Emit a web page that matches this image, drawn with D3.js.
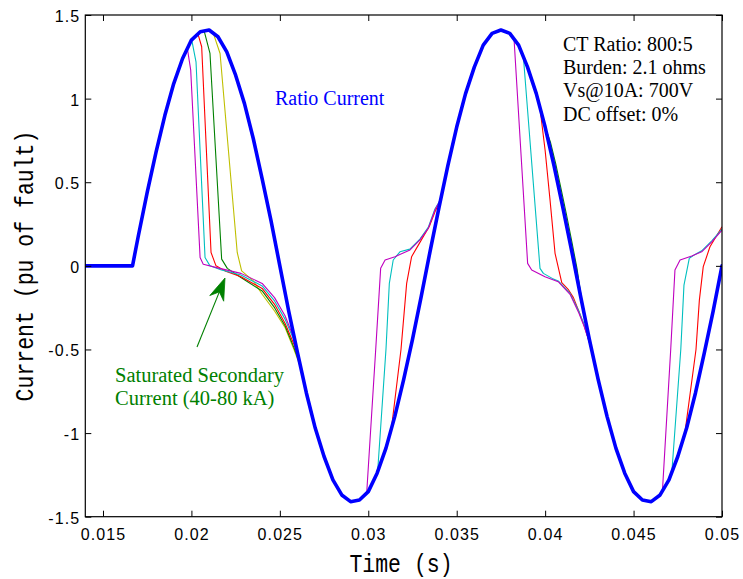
<!DOCTYPE html>
<html>
<head>
<meta charset="utf-8">
<script src="https://cdn.jsdelivr.net/npm/d3@7/dist/d3.min.js"></script>
<style>
  html, body { margin: 0; padding: 0; background: #ffffff; }
  svg { display: block; }
</style>
</head>
<body>
<svg id="chart" width="743" height="579"></svg>
<script>
// ---------- data ----------
const xTicks = [0.015, 0.02, 0.025, 0.03, 0.035, 0.04, 0.045, 0.05];
const xTickLabels = ["0.015", "0.02", "0.025", "0.03", "0.035", "0.04", "0.045", "0.05"];
const yTicks = [-1.5, -1, -0.5, 0, 0.5, 1, 1.5];
const yTickLabels = ["-1.5", "-1", "-0.5", "0", "0.5", "1", "1.5"];

// Ratio current (blue)
const ratioTime = [0.014, 0.0165, 0.01667, 0.0170, 0.0175, 0.0180, 0.0185, 0.0190, 0.0195, 0.0200, 0.0205,
  0.0210, 0.0215, 0.0220, 0.0225, 0.0230, 0.0235, 0.0240, 0.0245, 0.0250, 0.0255, 0.0260, 0.0265,
  0.0270, 0.0275, 0.0280, 0.0285, 0.0290, 0.0295, 0.0300, 0.0305, 0.0310, 0.0315, 0.0320, 0.0325,
  0.0330, 0.0335, 0.0340, 0.0345, 0.0350, 0.0355, 0.0360, 0.0365, 0.0370, 0.0375, 0.0380, 0.0385,
  0.0390, 0.0395, 0.0400, 0.0405, 0.0410, 0.0415, 0.0420, 0.0425, 0.0430, 0.0435, 0.0440, 0.0445,
  0.0450, 0.0455, 0.0460, 0.0465, 0.0470, 0.0475, 0.0480, 0.0485, 0.0490, 0.0495, 0.0500];
const ratioCurrent = [0, 0, 0, 0.18, 0.44, 0.68, 0.90, 1.09, 1.24, 1.35, 1.40,
  1.41, 1.37, 1.28, 1.14, 0.97, 0.76, 0.52, 0.27, 0.00, -0.27, -0.52, -0.76,
  -0.97, -1.14, -1.28, -1.37, -1.41, -1.40, -1.35, -1.24, -1.09, -0.90, -0.68, -0.44,
  -0.18, 0.09, 0.35, 0.60, 0.83, 1.03, 1.19, 1.32, 1.39, 1.41, 1.39, 1.32,
  1.19, 1.03, 0.83, 0.60, 0.35, 0.09, -0.18, -0.44, -0.68, -0.90, -1.09, -1.24,
  -1.35, -1.40, -1.41, -1.37, -1.28, -1.14, -0.97, -0.76, -0.52, -0.27, 0.00];

// Saturated secondary currents: only the stretches where they leave the ratio current
// (elsewhere they coincide with it). null separates saturation episodes.
const magentaTime = [0.01977, 0.01996, 0.02049, 0.02067, 0.0216, 0.0228, 0.0240, 0.0247, 0.0253, 0.02575, 0.0260, null,
  0.02991, 0.03042, 0.0307, 0.03095, 0.03151, 0.03236, 0.03292, 0.03339, 0.03377, 0.0341, null,
  0.03824, 0.03901, 0.03924, 0.03999, 0.04074, 0.04141, 0.0419, 0.0422, 0.0426, null,
  0.04663, 0.0471, 0.04734, 0.04763, 0.04829, 0.04885, 0.04942, 0.0500];
const magentaCurrent = [1.30, 1.17, 0.05, 0.01, -0.015, -0.045, -0.105, -0.19, -0.30, -0.42, -0.52, null,
  -1.36, -0.50, -0.015, 0.035, 0.055, 0.095, 0.155, 0.224, 0.334, 0.40, null,
  1.36, 0.015, -0.025, -0.065, -0.095, -0.17, -0.28, -0.36, -0.49, null,
  -1.35, -0.50, -0.025, 0.035, 0.059, 0.084, 0.144, 0.214];

const cyanTime = [0.02002, 0.02026, 0.02077, 0.02105, 0.0217, 0.0228, 0.0240, 0.0247, 0.0253, 0.02578, 0.02605, null,
  0.03053, 0.0310, 0.03119, 0.03141, 0.03179, 0.03235, 0.03292, 0.03339, 0.03377, 0.0341, null,
  0.03877, 0.03971, 0.0399, 0.0404, 0.04074, 0.04141, 0.0419, 0.0422, 0.0426, null,
  0.04716, 0.04767, 0.04785, 0.04815, 0.0485, 0.04885, 0.04942, 0.0500];
const cyanCurrent = [1.35, 1.22, 0.05, 0.0, -0.025, -0.055, -0.12, -0.21, -0.32, -0.44, -0.54, null,
  -1.23, -0.50, -0.105, 0.035, 0.084, 0.10, 0.16, 0.23, 0.34, 0.40, null,
  1.25, -0.015, -0.045, -0.075, -0.09, -0.165, -0.27, -0.35, -0.49, null,
  -1.24, -0.50, -0.115, 0.045, 0.07, 0.09, 0.15, 0.22];

const redTime = [0.02036, 0.02058, 0.02111, 0.02139, 0.0219, 0.0228, 0.0240, 0.0247, 0.0253, 0.0258, 0.0261, null,
  0.0313, 0.03185, 0.03217, 0.03245, 0.03283, 0.0332, 0.03345, 0.0338, 0.0341, null,
  0.0397, 0.0400, 0.04028, 0.04056, 0.04094, 0.0413, 0.0416, 0.0419, 0.0422, 0.0426, null,
  0.0479, 0.04853, 0.04872, 0.04894, 0.04932, 0.0500];
const redCurrent = [1.39, 1.31, 0.08, 0.0, -0.03, -0.065, -0.135, -0.23, -0.345, -0.47, -0.57, null,
  -0.98, -0.50, -0.105, 0.055, 0.124, 0.19, 0.235, 0.33, 0.40, null,
  0.95, 0.69, 0.39, 0.075, -0.10, -0.14, -0.19, -0.27, -0.355, -0.49, null,
  -1.00, -0.50, -0.205, -0.005, 0.114, 0.234];

const greenTime = [0.02073, 0.02105, 0.02171, 0.02203, 0.0228, 0.0240, 0.0247, 0.0253, 0.0258, 0.02615, null,
  0.0400, 0.0403, 0.0406, 0.0409, 0.0412, 0.0415, 0.0418, 0.0421];
const greenCurrent = [1.40, 1.27, 0.04, -0.015, -0.07, -0.15, -0.25, -0.36, -0.49, -0.59, null,
  0.83, 0.74, 0.61, 0.46, 0.31, 0.15, -0.015, -0.23];

const yellowTime = [0.02124, 0.02162, 0.02259, 0.02284, 0.0235, 0.0240, 0.0247, 0.0253, 0.0258, 0.0262, null,
  0.0401, 0.0404, 0.0407, 0.0410, 0.0413, 0.0416, 0.0419, 0.0422];
const yellowCurrent = [1.39, 1.27, 0.08, -0.03, -0.09, -0.17, -0.27, -0.37, -0.50, -0.615, null,
  0.78, 0.68, 0.53, 0.38, 0.225, 0.07, -0.10, -0.28];

const infoLines = ["CT Ratio: 800:5", "Burden: 2.1 ohms", "Vs@10A: 700V", "DC offset: 0%"];
const satLabel = ["Saturated Secondary", "Current (40-80 kA)"];

// ---------- drawing ----------
const svg = d3.select("#chart");
const L = 85.3, R = 722, T = 15, B = 516.7;
const x = d3.scaleLinear().domain([0.014, 0.05]).range([L, R]);
const y = d3.scaleLinear().domain([-1.5, 1.5]).range([B, T]);

svg.append("rect").attr("x", 0).attr("y", 0).attr("width", 743).attr("height", 579).attr("fill", "#fff");

svg.append("clipPath").attr("id", "clip")
  .append("rect").attr("x", L).attr("y", T).attr("width", R - L).attr("height", B - T);

const plot = svg.append("g").attr("clip-path", "url(#clip)");

const zip = (ts, vs) => ts.map((t, i) => ({ t: t, v: vs[i] }));
const line = d3.line()
  .defined(d => d.t !== null && d.v !== null)
  .x(d => x(d.t)).y(d => y(d.v));

const thin = [
  { data: zip(yellowTime, yellowCurrent), color: "#bfbf00" },
  { data: zip(greenTime, greenCurrent), color: "#008000" },
  { data: zip(redTime, redCurrent), color: "#ff0000" },
  { data: zip(cyanTime, cyanCurrent), color: "#00bfbf" },
  { data: zip(magentaTime, magentaCurrent), color: "#bf00bf" }
];
thin.forEach(s => {
  plot.append("path").datum(s.data).attr("d", line)
    .attr("fill", "none").attr("stroke", s.color).attr("stroke-width", 1.1)
    .attr("stroke-linejoin", "round");
});
plot.append("path").datum(zip(ratioTime, ratioCurrent)).attr("d", line)
  .attr("fill", "none").attr("stroke", "#0000ff").attr("stroke-width", 3.6)
  .attr("stroke-linejoin", "round").attr("stroke-linecap", "round");

// axes box
svg.append("rect").attr("x", L).attr("y", T).attr("width", R - L).attr("height", B - T)
  .attr("fill", "none").attr("stroke", "#000").attr("stroke-width", 1.2);

// ticks (inward) using d3 axes
const tickFont = "'Liberation Sans', Arial, sans-serif";
const xb = svg.append("g").attr("transform", `translate(0,${B})`)
  .call(d3.axisBottom(x).tickValues(xTicks).tickSize(-6).tickPadding(14)
    .tickFormat((d, i) => xTickLabels[i]));
const xt = svg.append("g").attr("transform", `translate(0,${T})`)
  .call(d3.axisTop(x).tickValues(xTicks).tickSize(-6).tickFormat(""));
const yl = svg.append("g").attr("transform", `translate(${L},0)`)
  .call(d3.axisLeft(y).tickValues(yTicks).tickSize(-6).tickPadding(5)
    .tickFormat((d, i) => yTickLabels[i]));
const yr = svg.append("g").attr("transform", `translate(${R},0)`)
  .call(d3.axisRight(y).tickValues(yTicks).tickSize(-6).tickFormat(""));
[xb, xt, yl, yr].forEach(g => {
  g.select(".domain").remove();
  g.selectAll(".tick line").attr("stroke", "#000").attr("stroke-width", 1);
  g.selectAll("text").attr("fill", "#000").style("font-family", tickFont)
    .style("font-size", "16px").style("letter-spacing", "1.1px");
});
xb.selectAll(".tick text").attr("dy", "0.71em").attr("y", 12);
yl.selectAll(".tick text").attr("dy", "0.40em").attr("x", -5);

// axis labels
const monoFont = "'Liberation Mono', 'DejaVu Sans Mono', monospace";
svg.append("text").text("Time (s)")
  .attr("transform", "translate(401,572) scale(1,1.22)")
  .attr("text-anchor", "middle").style("font-family", monoFont).style("font-size", "21.5px").attr("fill", "#000");
svg.append("text").text("Current (pu of fault)")
  .attr("transform", "translate(33,266) rotate(-90) scale(1,1.22)")
  .attr("text-anchor", "middle").style("font-family", monoFont).style("font-size", "21.5px").attr("fill", "#000");

// annotations
const serif = "'Liberation Serif', 'Times New Roman', serif";
svg.append("text").text("Ratio Current").attr("x", 275).attr("y", 105)
  .style("font-family", serif).style("font-size", "20px").attr("fill", "#0000ff");

svg.append("g").selectAll("text").data(infoLines).join("text")
  .text(d => d).attr("x", 563).attr("y", (d, i) => 51 + i * 23.2)
  .style("font-family", serif).style("font-size", "20px").attr("fill", "#000");

svg.append("g").selectAll("text").data(satLabel).join("text")
  .text(d => d).attr("x", 115).attr("y", (d, i) => 382 + i * 23.2)
  .style("font-family", serif).style("font-size", "20.5px").attr("fill", "#008000");

// arrow
const ax0 = 197, ay0 = 347, ax1 = 225, ay1 = 278;
const ang = Math.atan2(ay1 - ay0, ax1 - ax0);
const hl = 22, hw = 7.5, notch = 15;
const ux = Math.cos(ang), uy = Math.sin(ang), px = -uy, py = ux;
svg.append("line").attr("x1", ax0).attr("y1", ay0)
  .attr("x2", ax1 - ux * notch).attr("y2", ay1 - uy * notch)
  .attr("stroke", "#008000").attr("stroke-width", 1.1);
const head = [
  [ax1, ay1],
  [ax1 - ux * hl + px * hw, ay1 - uy * hl + py * hw],
  [ax1 - ux * notch, ay1 - uy * notch],
  [ax1 - ux * hl - px * hw, ay1 - uy * hl - py * hw]
];
svg.append("path").attr("d", "M" + head.map(p => p.join(",")).join("L") + "Z")
  .attr("fill", "#008000").attr("stroke", "#008000").attr("stroke-width", 0.8);
</script>
</body>
</html>
